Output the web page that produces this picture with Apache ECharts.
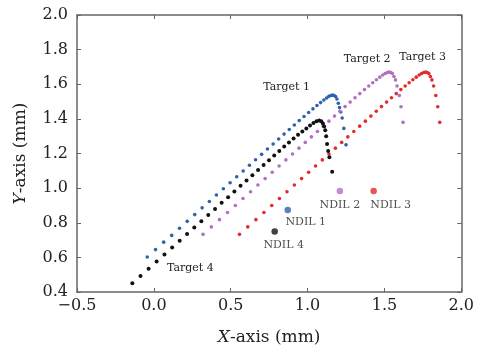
<!DOCTYPE html>
<html><head><meta charset="utf-8">
<script src="https://cdn.jsdelivr.net/npm/echarts@6/dist/echarts.min.js"></script>
<style>html,body{margin:0;padding:0;background:#fff}#c{width:477px;height:351px}</style>
</head><body><div id="c"></div>
<script>
// ---- data (mm) ----
var xTickLabels = ['\u22120.5', '0.0', '0.5', '1.0', '1.5', '2.0'];
var yTickLabels = ['0.4', '0.6', '0.8', '1.0', '1.2', '1.4', '1.6', '1.8', '2.0'];

var t1X = [-0.043, 0.011, 0.064, 0.116, 0.167, 0.217, 0.266, 0.314, 0.361, 0.407, 0.452, 0.496, 0.539, 0.581, 0.622, 0.662, 0.701, 0.739, 0.776, 0.812, 0.847, 0.881, 0.914, 0.946, 0.977, 1.007, 1.035, 1.061, 1.085, 1.106, 1.124, 1.139, 1.152, 1.163, 1.173, 1.182, 1.191, 1.2, 1.208, 1.216, 1.225, 1.236, 1.25];
var t1Y = [0.602, 0.645, 0.688, 0.727, 0.768, 0.808, 0.847, 0.886, 0.923, 0.960, 0.996, 1.031, 1.066, 1.099, 1.132, 1.164, 1.195, 1.226, 1.255, 1.284, 1.312, 1.339, 1.365, 1.390, 1.414, 1.437, 1.458, 1.477, 1.494, 1.509, 1.521, 1.530, 1.535, 1.537, 1.535, 1.529, 1.515, 1.49, 1.465, 1.44, 1.405, 1.345, 1.25];

var t2X = [0.32, 0.374, 0.427, 0.479, 0.53, 0.58, 0.629, 0.677, 0.724, 0.77, 0.815, 0.859, 0.902, 0.944, 0.985, 1.025, 1.064, 1.102, 1.139, 1.175, 1.21, 1.244, 1.277, 1.309, 1.34, 1.37, 1.398, 1.424, 1.448, 1.47, 1.489, 1.505, 1.519, 1.531, 1.542, 1.552, 1.562, 1.572, 1.582, 1.597, 1.608, 1.621];
var t2Y = [0.733, 0.776, 0.818, 0.859, 0.9, 0.94, 0.979, 1.018, 1.055, 1.092, 1.128, 1.163, 1.197, 1.231, 1.264, 1.296, 1.327, 1.358, 1.387, 1.416, 1.444, 1.471, 1.497, 1.522, 1.546, 1.569, 1.59, 1.609, 1.626, 1.641, 1.653, 1.662, 1.668, 1.67, 1.668, 1.662, 1.645, 1.625, 1.59, 1.535, 1.47, 1.38];

var t3X = [0.557, 0.611, 0.664, 0.716, 0.767, 0.817, 0.866, 0.914, 0.961, 1.007, 1.052, 1.096, 1.139, 1.181, 1.222, 1.262, 1.301, 1.339, 1.376, 1.412, 1.447, 1.481, 1.514, 1.546, 1.577, 1.607, 1.635, 1.661, 1.685, 1.707, 1.726, 1.742, 1.756, 1.768, 1.779, 1.789, 1.799, 1.809, 1.82, 1.834, 1.847, 1.86];
var t3Y = [0.733, 0.776, 0.818, 0.859, 0.9, 0.94, 0.979, 1.018, 1.055, 1.092, 1.128, 1.163, 1.197, 1.231, 1.264, 1.296, 1.327, 1.358, 1.387, 1.416, 1.444, 1.471, 1.497, 1.522, 1.546, 1.569, 1.59, 1.609, 1.626, 1.641, 1.653, 1.662, 1.668, 1.67, 1.668, 1.662, 1.645, 1.625, 1.59, 1.535, 1.47, 1.38];

var t4X = [-0.14, -0.087, -0.034, 0.018, 0.069, 0.119, 0.168, 0.216, 0.263, 0.309, 0.354, 0.398, 0.441, 0.483, 0.524, 0.564, 0.603, 0.641, 0.678, 0.714, 0.749, 0.783, 0.816, 0.848, 0.879, 0.909, 0.938, 0.966, 0.992, 1.016, 1.038, 1.058, 1.075, 1.089, 1.1, 1.108, 1.115, 1.121, 1.127, 1.134, 1.142, 1.16];
var t4Y = [0.45, 0.492, 0.535, 0.576, 0.617, 0.657, 0.696, 0.735, 0.772, 0.809, 0.845, 0.880, 0.915, 0.948, 0.981, 1.013, 1.044, 1.075, 1.104, 1.133, 1.161, 1.188, 1.214, 1.240, 1.264, 1.287, 1.308, 1.327, 1.345, 1.362, 1.376, 1.386, 1.390, 1.386, 1.374, 1.356, 1.335, 1.3, 1.255, 1.215, 1.178, 1.095];

var ndilNames = ['NDIL 1', 'NDIL 2', 'NDIL 3', 'NDIL 4'];
var ndilX = [0.871, 1.21, 1.43, 0.786];
var ndilY = [0.874, 0.984, 0.984, 0.749];

var targetNames = ['Target 1', 'Target 2', 'Target 3', 'Target 4'];

// ---- styles ----
var colors = ['#2c62ae', '#b070c4', '#e42a2a', '#111111'];
var serif = 'DejaVu Serif';
var frame = '#666666';

function zip(xs, ys) { var o = []; for (var i = 0; i < xs.length; i++) o.push([xs[i], ys[i]]); return o; }
function peakIndex(ys) { var m = 0; for (var i = 1; i < ys.length; i++) if (ys[i] > ys[m]) m = i; return m; }

var curves = [[t1X, t1Y], [t2X, t2Y], [t3X, t3Y], [t4X, t4Y]];
var targetLabelOffsets = [[-46, -8], [-22, -13], [-3, -15], [58, -15]];
var ndilLabelOffsets = [[18, 12], [0, 14], [17, 14], [9, 14]];

var series = [];
curves.forEach(function (c, k) {
  var data = zip(c[0], c[1]).map(function (p) { return { value: p }; });
  var li = (k === 3) ? 0 : peakIndex(c[1]);
  data[li].label = {
    show: true, formatter: targetNames[k], position: 'inside',
    offset: targetLabelOffsets[k], color: '#222', fontFamily: serif, fontSize: 11
  };
  series.push({
    type: 'scatter', name: targetNames[k], data: data,
    symbolSize: k === 3 ? 4 : 3.6, itemStyle: { color: colors[k], opacity: 1 },
    emphasis: { disabled: true }, silent: true, z: 3
  });
});
series.push({
  type: 'scatter', name: 'NDIL',
  data: ndilX.map(function (x, i) {
    return {
      value: [x, ndilY[i]], itemStyle: { color: colors[i] },
      label: { show: true, formatter: ndilNames[i], position: 'inside', offset: ndilLabelOffsets[i],
        color: '#222', fontFamily: serif, fontSize: 11 }
    };
  }),
  symbolSize: 6.5, emphasis: { disabled: true }, silent: true, z: 4
});

var tickLabelStyle = { color: '#222', fontFamily: serif, fontSize: 16 };
var nameStyle = {
  color: '#222', fontFamily: serif, fontSize: 17,
  rich: { i: { fontStyle: 'italic', fontFamily: serif, fontSize: 17, color: '#222' } }
};

var chart = echarts.init(document.getElementById('c'), null, { renderer: 'canvas' });
chart.setOption({
  animation: false,
  backgroundColor: '#ffffff',
  grid: { left: 77, right: 13, top: 15, bottom: 59 },
  xAxis: [{
    type: 'value', min: -0.5, max: 2.0, interval: 0.5, position: 'bottom',
    name: '{i|X}-axis (mm)', nameLocation: 'middle', nameGap: 37, nameTextStyle: nameStyle,
    axisLine: { show: true, onZero: false, lineStyle: { color: frame, width: 1.5 } },
    axisTick: { show: true, inside: true, length: 4, lineStyle: { color: frame } },
    axisLabel: Object.assign({ margin: 6, formatter: function (v, i) { return xTickLabels[i]; } }, tickLabelStyle),
    splitLine: { show: false }
  }, {
    type: 'value', min: -0.5, max: 2.0, interval: 0.5, position: 'top',
    axisLine: { show: true, onZero: false, lineStyle: { color: frame, width: 1.5 } },
    axisTick: { show: true, inside: true, length: 4, lineStyle: { color: frame } },
    axisLabel: { show: false }, splitLine: { show: false }
  }],
  yAxis: [{
    type: 'value', min: 0.4, max: 2.0, interval: 0.2, position: 'left',
    name: '{i|Y}-axis (mm)', nameLocation: 'middle', nameGap: 48, nameTextStyle: nameStyle,
    axisLine: { show: true, onZero: false, lineStyle: { color: frame, width: 1.5 } },
    axisTick: { show: true, inside: true, length: 4, lineStyle: { color: frame } },
    axisLabel: Object.assign({ margin: 9, formatter: function (v, i) { return yTickLabels[i]; } }, tickLabelStyle),
    splitLine: { show: false }
  }, {
    type: 'value', min: 0.4, max: 2.0, interval: 0.2, position: 'right',
    axisLine: { show: true, onZero: false, lineStyle: { color: frame, width: 1.5 } },
    axisTick: { show: true, inside: true, length: 4, lineStyle: { color: frame } },
    axisLabel: { show: false }, splitLine: { show: false }
  }],
  series: series
});
</script></body></html>
